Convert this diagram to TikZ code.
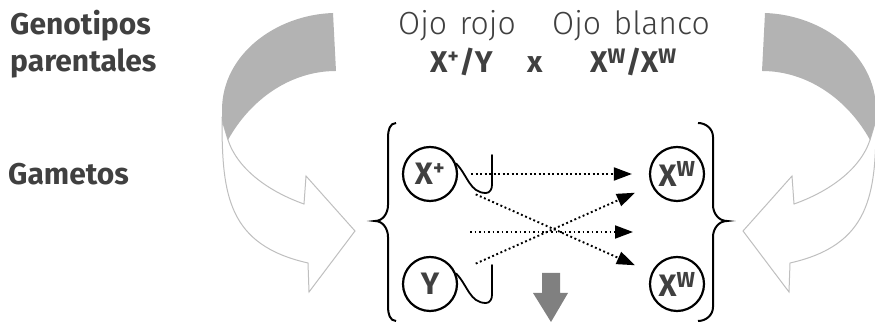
\documentclass[tikz,border=0pt]{standalone}
\usepackage{fontspec}
\setmainfont{Fira Sans}
\newfontfamily\lightfont{Fira Sans Light}[WordSpace=1.4]
\usetikzlibrary{arrows.meta}
\definecolor{txtgray}{HTML}{404040}
\definecolor{bandgray}{HTML}{B3B3B3}
\definecolor{rimgray}{HTML}{BFBFBF}
\definecolor{downgray}{HTML}{808080}

\begin{document}
\begin{tikzpicture}[x=1pt, y=1pt,
    every node/.style={text=txtgray, inner sep=0pt},
    rowlabel/.style={font=\fontsize{30}{36}\selectfont\bfseries, anchor=base west},
    eyelabel/.style={font=\fontsize{32}{36}\selectfont\lightfont, anchor=base west},
    geno/.style={font=\fontsize{30}{36}\selectfont\bfseries, anchor=base west},
    gamete/.style={circle, draw=black, line width=2.2pt, minimum size=54pt, font=\fontsize{31}{36}\selectfont\bfseries},
    dotarr/.style={line width=1.9pt, dash pattern=on 1.9pt off 2.6pt, -{Triangle[length=18pt,width=13pt]}},
    brace/.style={line width=2pt},
    hook/.style={line width=1.8pt, line cap=round},
    band/.style={fill=bandgray, draw=none},
    rim/.style={fill=white, draw=rimgray, line width=1pt}
]
\useasboundingbox (0,0) rectangle (875,323);

% curved arrows at both sides
\foreach \side in {0,1} {
  \begin{scope}[shift={(1098*\side,0)}, xscale=1-2*\side]
    \draw[rim] (222,203) .. controls (222,128) and (228,78) .. (308,60)
      -- (309,31) -- (355,92) -- (306,147) -- (304,119)
      .. controls (270,131) and (238,153) .. (228,183) -- cycle;
    \fill[band] (333,310) .. controls (275,308) and (222,268) .. (222,213)
      -- (222,203) -- (228,183) .. controls (250,223) and (290,252) .. (336,252) -- cycle;
  \end{scope}
}

% labels
\node[rowlabel] (gen) at (10,288) {Genotipos};
\node[rowlabel] (par) at (10,251) {parentales};
\node[rowlabel] (gam) at (8,138) {Gametos};

\node[eyelabel] (red) at (398,288) {Ojo rojo};
\node[eyelabel] (white) at (552,288) {Ojo blanco};
\node[geno] (male) at (430,250) {X\textsuperscript{+}/Y};
\node[geno] (cross) at (527,250) {x};
\node[geno] (female) at (590,250) {X\textsuperscript{W}/X\textsuperscript{W}};

% gametes
\node[gamete] (gx) at (430,149) {X\textsuperscript{+}};
\node[gamete] (gy) at (430,39) {Y};
\node[gamete] (gw1) at (677,149) {X\textsuperscript{W}};
\node[gamete] (gw2) at (677,39) {X\textsuperscript{W}};

\draw[hook] (gx.22) to[out=-45,in=180] (486,130) to[out=0,in=-90] (492,138) -- (492,168);
\draw[hook] (gy.22) to[out=-45,in=180] (486,20) to[out=0,in=-90] (492,28) -- (492,58);

% braces
\draw[brace] (396,200) to[out=180,in=90] (388,186) -- (388,118)
  to[out=-90,in=0] (375,102) to[out=0,in=90] (388,86) -- (388,16)
  to[out=-90,in=180] (396,2);
\draw[brace] (698,200) to[out=0,in=90] (713,186) -- (713,118)
  to[out=-90,in=180] (727,102) to[out=180,in=90] (713,86) -- (713,16)
  to[out=-90,in=0] (698,2);

% crossings
\coordinate (mid1) at (470,91);
\coordinate (mid2) at (633,91);
\draw[dotarr, shorten <=13pt, shorten >=17pt] (gx) -- (gw1);
\draw[dotarr, shorten <=22pt, shorten >=18pt] (gx) -- (gw2);
\draw[dotarr] (mid1) -- (mid2);
\draw[dotarr, shorten <=22pt, shorten >=18pt] (gy) -- (gw1);

% down arrow
\fill[downgray] (542,50) -- (560,50) -- (560,30) -- (568,30) -- (551,1)
  -- (533,30) -- (542,30) -- cycle;
\end{tikzpicture}
\end{document}
